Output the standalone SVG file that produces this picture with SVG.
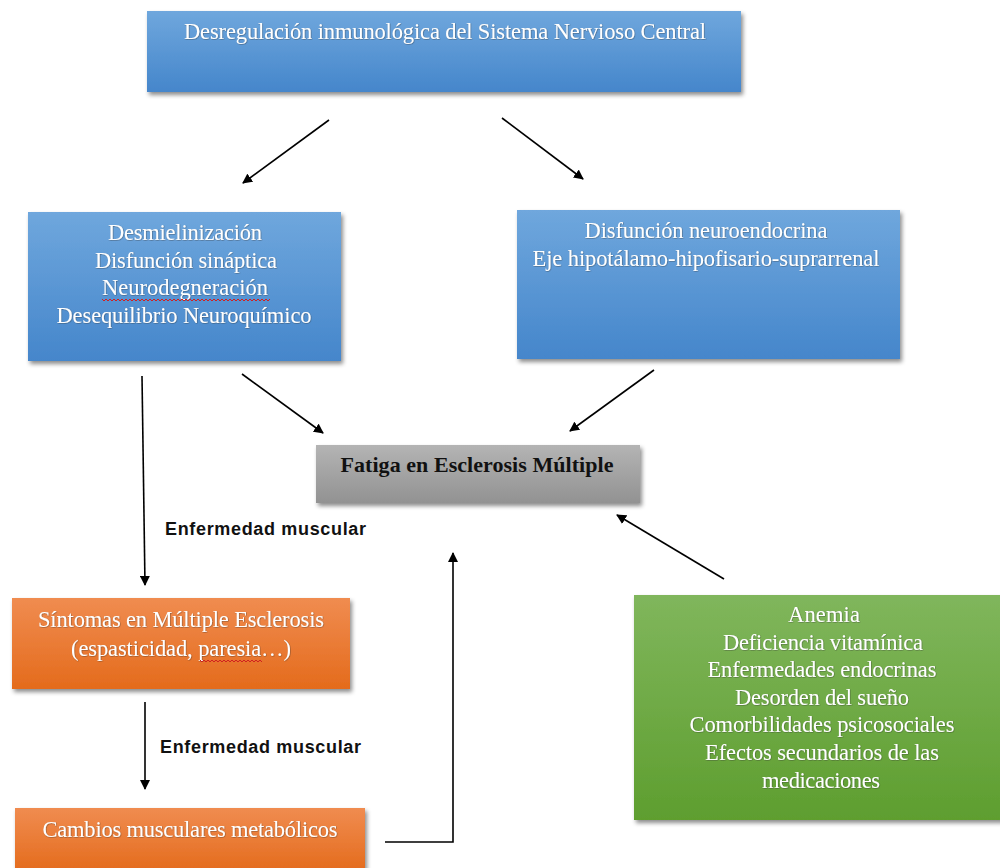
<svg xmlns="http://www.w3.org/2000/svg" width="1000" height="868" viewBox="0 0 1000 868">
<defs>
<linearGradient id="gBlue" x1="0" y1="0" x2="0" y2="1"><stop offset="0" stop-color="#6fa7dd"/><stop offset="1" stop-color="#4586cb"/></linearGradient>
<linearGradient id="gOrange" x1="0" y1="0" x2="0" y2="1"><stop offset="0" stop-color="#f08c50"/><stop offset="1" stop-color="#e46b1c"/></linearGradient>
<linearGradient id="gGreen" x1="0" y1="0" x2="0" y2="1"><stop offset="0" stop-color="#80b65c"/><stop offset="1" stop-color="#5e9e2f"/></linearGradient>
<linearGradient id="gGray" x1="0" y1="0" x2="0" y2="1"><stop offset="0" stop-color="#b4b4b4"/><stop offset="1" stop-color="#929292"/></linearGradient>
<filter id="sh" x="-5%" y="-10%" width="112%" height="125%"><feDropShadow dx="2" dy="3" stdDeviation="2" flood-color="#000" flood-opacity="0.45"/></filter>
<filter id="tg" x="-5%" y="-30%" width="110%" height="160%"><feDropShadow dx="0.5" dy="0.5" stdDeviation="0.6" flood-color="#333" flood-opacity="0.6"/></filter>
<marker id="ah" viewBox="0 0 10 10" refX="9" refY="5" markerWidth="10" markerHeight="10" markerUnits="userSpaceOnUse" orient="auto"><path d="M0,0 L10,5 L0,10 z" fill="#000"/></marker>
</defs>
<style>
.box{filter:url(#sh);}
.wt{font-family:"Liberation Serif","Times New Roman",serif;font-size:22.5px;fill:#fff;text-anchor:middle;filter:url(#tg);}
.bt{font-family:"Liberation Serif","Times New Roman",serif;font-size:22px;font-weight:bold;fill:#111;text-anchor:middle;}
.lbl{font-family:"Liberation Sans",Arial,sans-serif;font-size:18px;font-weight:bold;fill:#111;}
.cn{stroke:#000;stroke-width:1.6;fill:none;}
.sq{stroke:#d02020;stroke-width:1;fill:none;}
</style>
<rect width="1000" height="868" fill="#fff"/>
<g id="connectors">
<line class="cn" x1="329" y1="120" x2="243" y2="183" marker-end="url(#ah)"/>
<line class="cn" x1="502" y1="118" x2="583" y2="179" marker-end="url(#ah)"/>
<line class="cn" x1="242" y1="374" x2="323" y2="433" marker-end="url(#ah)"/>
<line class="cn" x1="654" y1="370" x2="570" y2="431" marker-end="url(#ah)"/>
<line class="cn" x1="724" y1="579" x2="617" y2="515" marker-end="url(#ah)"/>
<line class="cn" x1="142" y1="376" x2="145" y2="585" marker-end="url(#ah)"/>
<line class="cn" x1="145" y1="702" x2="145" y2="789" marker-end="url(#ah)"/>
<polyline class="cn" points="385,842 453,842 453,553" marker-end="url(#ah)"/>
<text class="lbl" x="165" y="535" textLength="201">Enfermedad muscular</text>
<text class="lbl" x="160" y="753" textLength="201">Enfermedad muscular</text>
</g>
<g id="n-top">
<rect class="box" x="147" y="11" width="594" height="81" fill="url(#gBlue)"/>
<text class="wt" x="445" y="39" textLength="522">Desregulación inmunológica del Sistema Nervioso Central</text>
</g>
<g id="n-left">
<rect class="box" x="28" y="212" width="313" height="149" fill="url(#gBlue)"/>
<text class="wt" x="185" y="240" textLength="154">Desmielinización</text>
<text class="wt" x="186" y="268" textLength="182">Disfunción sináptica</text>
<text class="wt" x="185" y="295" textLength="166">Neurodegneración</text>
<text class="wt" x="184" y="323" textLength="255">Desequilibrio Neuroquímico</text>
<path class="sq" d="M102,299 l2,2 l2,-2 l2,2 l2,-2 l2,2 l2,-2 l2,2 l2,-2 l2,2 l2,-2 l2,2 l2,-2 l2,2 l2,-2 l2,2 l2,-2 l2,2 l2,-2 l2,2 l2,-2 l2,2 l2,-2 l2,2 l2,-2 l2,2 l2,-2 l2,2 l2,-2 l2,2 l2,-2 l2,2 l2,-2 l2,2 l2,-2 l2,2 l2,-2 l2,2 l2,-2 l2,2 l2,-2 l2,2 l2,-2 l2,2 l2,-2 l2,2 l2,-2 l2,2 l2,-2 l2,2 l2,-2 l2,2 l2,-2 l2,2 l2,-2 l2,2 l2,-2 l2,2 l2,-2 l2,2 l2,-2 l2,2 l2,-2 l2,2 l2,-2 l2,2 l2,-2 l2,2 l2,-2 l2,2 l2,-2 l2,2 l2,-2 l2,2 l2,-2 l2,2 l2,-2 l2,2 l2,-2 l2,2 l2,-2 l2,2 l2,-2 l2,2 l2,-2"/>
</g>
<g id="n-right">
<rect class="box" x="517" y="210" width="383" height="149" fill="url(#gBlue)"/>
<text class="wt" x="706" y="238" textLength="243">Disfunción neuroendocrina</text>
<text class="wt" x="706" y="266" textLength="347">Eje hipotálamo-hipofisario-suprarrenal</text>
</g>
<g id="n-fatiga">
<rect class="box" x="316" y="445" width="324" height="58" fill="url(#gGray)"/>
<text class="bt" x="477" y="472" textLength="273">Fatiga en Esclerosis Múltiple</text>
</g>
<g id="n-sintomas">
<rect class="box" x="12" y="598" width="338" height="91" fill="url(#gOrange)"/>
<text class="wt" x="181" y="627" textLength="286">Síntomas en Múltiple Esclerosis</text>
<text class="wt" x="181" y="656" textLength="220">(espasticidad, paresia…)</text>
<path class="sq" d="M200,660 l2,2 l2,-2 l2,2 l2,-2 l2,2 l2,-2 l2,2 l2,-2 l2,2 l2,-2 l2,2 l2,-2 l2,2 l2,-2 l2,2 l2,-2 l2,2 l2,-2 l2,2 l2,-2 l2,2 l2,-2 l2,2 l2,-2 l2,2 l2,-2 l2,2 l2,-2 l2,2 l2,-2 l2,2"/>
</g>
<g id="n-cambios">
<rect class="box" x="15" y="808" width="350" height="64" fill="url(#gOrange)"/>
<text class="wt" x="190" y="837" textLength="295">Cambios musculares metabólicos</text>
</g>
<g id="n-green">
<rect class="box" x="634" y="595" width="370" height="225" fill="url(#gGreen)"/>
<text class="wt" x="824" y="622" textLength="72">Anemia</text>
<text class="wt" x="823" y="650" textLength="200">Deficiencia vitamínica</text>
<text class="wt" x="822" y="677" textLength="229">Enfermedades endocrinas</text>
<text class="wt" x="822" y="705" textLength="174">Desorden del sueño</text>
<text class="wt" x="822" y="732" textLength="265">Comorbilidades psicosociales</text>
<text class="wt" x="822" y="760" textLength="234">Efectos secundarios de las</text>
<text class="wt" x="821" y="788" textLength="118">medicaciones</text>
</g>
</svg>
